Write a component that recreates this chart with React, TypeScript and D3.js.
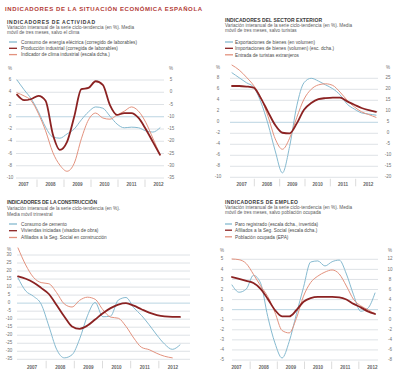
import React from "react";
import * as d3 from "d3";

// ---------- categories ----------
const years = ["2007", "2008", "2009", "2010", "2011", "2012"];
const quarterNames = ["I", "II", "III", "IV"];
const periods21 = years.flatMap((y) => quarterNames.map((q) => `${q}-${y}`)).slice(0, 21);
const periods22 = years.flatMap((y) => quarterNames.map((q) => `${q}-${y}`)).slice(0, 22);

// ---------- panel 1: actividad ----------
const actElectricidad = [6.0, 4.4, 2.9, 0.8, -1.7, -3.3, -3.5, -2.8, -2.0, -0.5, 0.8, 1.6, 1.4, 0.1, -1.2, -1.8, -1.7, -1.8, -2.3, -2.5, -1.8];
const actProduccion = [3.6, 2.7, 2.9, 3.4, 2.6, -2.8, -5.4, -4.1, 0.0, 4.5, 4.7, 5.8, 5.2, 1.9, 0.3, 0.6, 0.6, -0.2, -2.0, -4.1, -6.2];
const actClima = [3.9, 3.4, 2.6, 0.5, -2.3, -5.8, -7.9, -8.9, -7.6, -3.6, -0.5, 0.6, -0.2, -0.4, 0.3, 0.9, 1.6, 0.9, -0.9, -3.5, -6.2];
const actLeftTicks = [6, 4, 2, 0, -2, -4, -6, -8, -10];
const actRightTicks = ["5", "0", "-5", "-10", "-15", "-20", "-25", "-30", "-35"];

// ---------- panel 2: sector exterior ----------
const extExportaciones = [9.0, 8.1, 7.2, 6.4, 3.7, -0.3, -5.2, -9.2, -4.4, 3.0, 7.2, 8.0, 7.5, 6.8, 6.1, 5.0, 3.3, 2.4, 1.7, 1.5, 1.3];
const extImportaciones = [6.6, 6.6, 6.5, 6.3, 4.4, 1.9, -0.5, -1.9, -2.0, -0.2, 2.3, 3.5, 4.2, 4.4, 4.5, 4.5, 3.8, 3.2, 2.6, 2.2, 1.9];
const extTuristas = [10.4, 9.5, 8.2, 6.7, 4.5, 1.1, -3.0, -4.9, -2.9, 0.9, 4.2, 6.0, 6.8, 7.0, 6.7, 5.5, 4.0, 2.8, 1.9, 1.4, 0.9];
const extLeftTicks = [8, 6, 4, 2, 0, -2, -4, -6, -8, -10];
const extRightTicks = ["25", "20", "15", "10", "5", "0", "-5", "-10", "-15", "-20"];

// ---------- panel 3: construccion ----------
const conCemento = [15.7, 7.6, 4.3, -0.6, -14.3, -28.7, -34.1, -32.2, -22.2, -7.9, 0.4, -8.5, -8.1, 1.9, 3.5, -2.8, -7.6, -13.5, -19.9, -25.5, -28.8, -26.0];
const conViviendas = [16.7, 15.2, 12.9, 9.5, 5.7, -1.1, -8.3, -14.5, -16.0, -14.0, -10.2, -6.3, -3.1, -0.9, 0.0, -1.6, -3.8, -5.9, -7.4, -8.3, -8.6, -8.6];
const conAfiliados = [34.4, 23.8, 16.1, 12.8, 12.1, 6.6, -0.5, -2.4, 1.8, 3.7, 2.4, -4.1, -8.7, -9.4, -14.5, -21.7, -27.5, -29.0, -31.3, -33.1, -34.1, null];
const conLeftTicks = [30, 25, 20, 15, 10, 5, 0, -5, -10, -15, -20, -25, -30, -35];

// ---------- panel 4: empleo ----------
const labParo = [2.45, 1.73, 2.05, 3.41, 2.63, -0.69, -3.3, -4.8, -3.17, -0.46, 2.22, 4.73, 4.84, 4.34, 4.76, 4.92, 3.54, 1.47, -0.16, 0.14, 1.65];
const labAfiliados = [3.24, 3.06, 2.86, 2.64, 2.07, 1.07, -0.03, -0.66, -0.67, -0.06, 0.78, 1.14, 1.26, 1.26, 1.26, 1.22, 1.01, 0.57, 0.23, -0.17, -0.43];
const labOcupados = [5.03, 4.96, 4.57, 3.51, 2.36, 1.3, -0.26, -2.07, -2.31, -0.87, 1.34, 2.69, 3.33, 3.73, 3.94, 3.54, 2.35, 1.02, 0.38, 0.0, -0.43];
const labLeftTicks = [5, 4, 3, 2, 1, 0, -1, -2, -3, -4, -5];
const labRightTicks = ["12", "10", "8", "6", "4", "2", "0", "-2", "-4", "-6", "-8"];

// ---------- styles ----------
const BLUE = "#86bad0";
const DARK = "#8b2222";
const SALMON = "#e3927e";
const GRID = "#d6dbdf";
const ZERO = "#a9cadb";
const FONT = "'Liberation Sans', Arial, sans-serif";

type Series = { name: string; color: string; width: number; values: (number | null)[] };
type Txt = { s: string; w: number };
type Panel = {
  title: Txt;
  subtitle: string[];
  textX: number;
  titleY: number;
  subY: number[];
  legendY: number[];
  swatch: [number, number];
  legendX: number;
  plotX: [number, number];
  gridX: [number, number];
  yTop: number;
  yBottom: number;
  leftX: number;
  rightX: number | null;
  pctY: number;
  yearRange: [number, number];
  yearY: number;
  leftTicks: number[];
  rightTicks: string[] | null;
  periods: string[];
  series: Series[];
};

const panels: Panel[] = [
  {
    title: { s: "INDICADORES DE ACTIVIDAD", w: 88 },
    subtitle: [
      "Variación interanual de la serie ciclo-tendencia (en %). Media",
      "móvil de tres meses, salvo el clima",
    ],
    textX: 7, titleY: 23.5, subY: [28.5, 33.5], legendY: [42, 48.3, 54.6],
    swatch: [9, 17], legendX: 21,
    plotX: [17, 160], gridX: [16, 164], yTop: 80, yBottom: 178,
    leftX: 10, rightX: 171, pctY: 68.5, yearRange: [10, 172], yearY: 184.5,
    leftTicks: actLeftTicks, rightTicks: actRightTicks, periods: periods21,
    series: [
      { name: "Consumo de energía eléctrica (corregido de laborables)", color: BLUE, width: 1, values: actElectricidad },
      { name: "Producción industrial (corregida de laborables)", color: DARK, width: 1.8, values: actProduccion },
      { name: "Indicador de clima industrial (escala dcha.)", color: SALMON, width: 1, values: actClima },
    ],
  },
  {
    title: { s: "INDICADORES DEL SECTOR EXTERIOR", w: 97 },
    subtitle: [
      "Variación interanual de la serie ciclo-tendencia (en %). Media",
      "móvil de tres meses, salvo turistas",
    ],
    textX: 225, titleY: 22, subY: [27, 31.5], legendY: [42, 48.3, 54.8],
    swatch: [225, 233], legendX: 235,
    plotX: [232, 376], gridX: [230, 378], yTop: 78.3, yBottom: 177.3,
    leftX: 218, rightX: 388, pctY: 67.5, yearRange: [229, 381], yearY: 184.5,
    leftTicks: extLeftTicks, rightTicks: extRightTicks, periods: periods21,
    series: [
      { name: "Exportaciones de bienes (en volumen)", color: BLUE, width: 1, values: extExportaciones },
      { name: "Importaciones de bienes (volumen) (esc. dcha.)", color: DARK, width: 1.8, values: extImportaciones },
      { name: "Entrada de turistas extranjeros", color: SALMON, width: 1, values: extTuristas },
    ],
  },
  {
    title: { s: "INDICADORES DE LA CONSTRUCCIÓN", w: 90 },
    subtitle: [
      "Variación interanual de la serie ciclo-tendencia (en %).",
      "Media móvil trimestral",
    ],
    textX: 7, titleY: 203.5, subY: [209.5, 216], legendY: [224, 230.7, 237.5],
    swatch: [9, 17], legendX: 21,
    plotX: [18, 180], gridX: [17, 190], yTop: 255, yBottom: 359.3,
    leftX: 9, rightX: null, pctY: 249.5, yearRange: [18, 187], yearY: 367.5,
    leftTicks: conLeftTicks, rightTicks: null, periods: periods22,
    series: [
      { name: "Consumo de cemento", color: BLUE, width: 1, values: conCemento },
      { name: "Viviendas iniciadas (visados de obra)", color: DARK, width: 1.8, values: conViviendas },
      { name: "Afiliados a la Seg. Social en construcción", color: SALMON, width: 1, values: conAfiliados },
    ],
  },
  {
    title: { s: "INDICADORES DE EMPLEO", w: 73 },
    subtitle: [
      "Variación interanual de la serie ciclo-tendencia (en %). Media",
      "móvil de tres meses, salvo población ocupada",
    ],
    textX: 225, titleY: 203.5, subY: [209, 213.5], legendY: [224, 230.2, 236.8],
    swatch: [225, 232], legendX: 235,
    plotX: [232, 375], gridX: [232, 378], yTop: 259.3, yBottom: 360,
    leftX: 222, rightX: 390, pctY: 250.5, yearRange: [223, 386], yearY: 367.5,
    leftTicks: labLeftTicks, rightTicks: labRightTicks, periods: periods21,
    series: [
      { name: "Paro registrado (escala dcha., invertida)", color: BLUE, width: 1, values: labParo },
      { name: "Afiliados a la Seg. Social (escala dcha.)", color: DARK, width: 1.8, values: labAfiliados },
      { name: "Población ocupada (EPA)", color: SALMON, width: 1, values: labOcupados },
    ],
  },
];

function PanelView({ p }: { p: Panel }) {
  const x = d3.scaleLinear().domain([0, p.periods.length - 1]).range(p.plotX);
  const lt = p.leftTicks;
  const y = d3.scaleLinear().domain([lt[lt.length - 1], lt[0]]).range([p.yBottom, p.yTop]);
  const band = d3.scaleBand().domain(years).range(p.yearRange);
  const line = d3
    .line<number | null>()
    .defined((d) => d !== null)
    .x((_, i) => x(i))
    .y((d) => y(d as number))
    .curve(d3.curveMonotoneX);

  return (
    <g>
      {/* text block */}
      <text x={p.textX} y={p.titleY} fontSize={5} fontWeight="bold" fill="#3a3a3a"
        textLength={p.title.w} lengthAdjust="spacing">{p.title.s}</text>
      {p.subtitle.map((t, i) => (
        <text key={i} x={p.textX} y={p.subY[i]} fontSize={4.7} fill="#5a5a5a">{t}</text>
      ))}
      {p.series.map((s, i) => (
        <g key={i}>
          <line x1={p.swatch[0]} x2={p.swatch[1]} y1={p.legendY[i]} y2={p.legendY[i]}
            stroke={s.color} strokeWidth={1.3} />
          <text x={p.legendX} y={p.legendY[i] + 1.7} fontSize={4.7} fill="#4a4a4a">{s.name}</text>
        </g>
      ))}

      {/* grid */}
      {lt.map((t, i) => (
        <line key={i} x1={p.gridX[0]} x2={p.gridX[1]} y1={y(t)} y2={y(t)}
          stroke={t === 0 ? ZERO : GRID} strokeWidth={0.8} />
      ))}
      {lt.map((t, i) => (
        <text key={i} x={p.leftX} y={y(t)} fontSize={4.5} fill="#707070"
          textAnchor="middle" dominantBaseline="middle">{t}</text>
      ))}
      <text x={p.leftX} y={p.pctY} fontSize={4.5} fill="#707070" textAnchor="middle"
        dominantBaseline="middle">%</text>
      {p.rightTicks && p.rightX !== null && (
        <g>
          {p.rightTicks.map((t, i) => (
            <text key={i} x={p.rightX as number} y={y(lt[i])} fontSize={4.5} fill="#707070"
              textAnchor="middle" dominantBaseline="middle">{t}</text>
          ))}
          <text x={p.rightX} y={p.pctY} fontSize={4.5} fill="#707070" textAnchor="middle"
            dominantBaseline="middle">%</text>
        </g>
      )}

      {/* x axis */}
      {years.slice(1).map((yr) => (
        <line key={yr} x1={band(yr) as number} x2={band(yr) as number}
          y1={p.yBottom + 1.5} y2={p.yBottom + 9} stroke="#c4c4c4" strokeWidth={0.6} />
      ))}
      {years.map((yr) => (
        <text key={yr} x={(band(yr) as number) + band.bandwidth() / 2} y={p.yearY}
          fontSize={4.6} fontWeight="bold" fill="#666" textAnchor="middle"
          dominantBaseline="middle">{yr}</text>
      ))}

      {/* series */}
      {[0, 2, 1].map((k) => {
        const s = p.series[k];
        return (
          <path key={k} d={line(s.values) || ""} fill="none" stroke={s.color}
            strokeWidth={s.width} strokeLinejoin="round" strokeLinecap="round" />
        );
      })}
    </g>
  );
}

export default function App() {
  return (
    <svg width={414} height={378} viewBox="0 0 414 378"
      style={{ position: "absolute", left: 0, top: 0, background: "#fff", fontFamily: FONT }}>
      <rect x={0} y={0} width={414} height={378} fill="#fff" />
      <text x={5} y={11} fontSize={6} fontWeight="bold" fill="#b23a36"
        textLength={197} lengthAdjust="spacing">
        INDICADORES DE LA SITUACIÓN ECONÓMICA ESPAÑOLA
      </text>
      {panels.map((p, i) => (
        <PanelView key={i} p={p} />
      ))}
    </svg>
  );
}
